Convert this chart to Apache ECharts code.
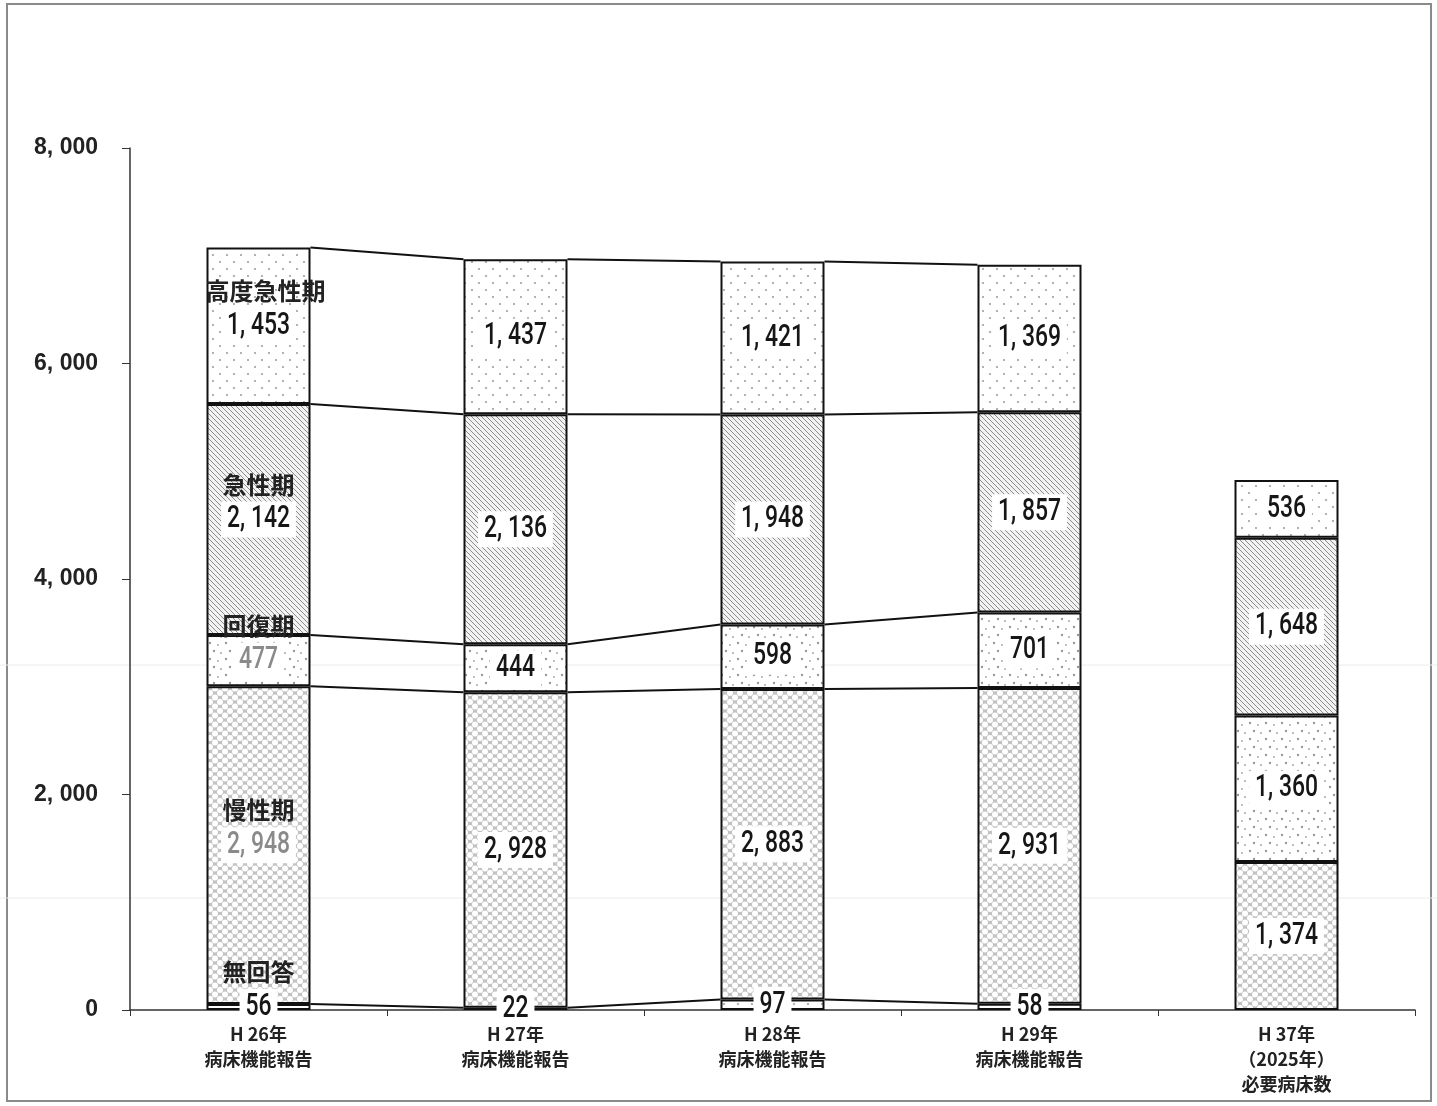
<!DOCTYPE html>
<html>
<head>
<meta charset="utf-8">
<script src="https://cdn.jsdelivr.net/npm/echarts@6/dist/echarts.min.js"></script>
<style>
  html, body { margin: 0; padding: 0; background: #fff; }
  #chart { width: 1437px; height: 1106px; }
</style>
</head>
<body>
<div id="chart"></div>
<script>
// Categories (x axis)
const categories = [
  'H 26年\n病床機能報告',
  'H 27年\n病床機能報告',
  'H 28年\n病床機能報告',
  'H 29年\n病床機能報告',
  'H 37年\n（2025年）\n必要病床数'
];

// Bed counts by function, bottom of the stack first
const mukaito      = [56, 22, 97, 58, null];        // 無回答
const manseiki     = [2948, 2928, 2883, 2931, 1374]; // 慢性期
const kaifukuki    = [477, 444, 598, 701, 1360];     // 回復期
const kyuseiki     = [2142, 2136, 1948, 1857, 1648]; // 急性期
const kodoKyuseiki = [1453, 1437, 1421, 1369, 536];  // 高度急性期

const seriesNames = ['無回答', '慢性期', '回復期', '急性期', '高度急性期'];

// Y axis ticks
const yTicks = [0, 2000, 4000, 6000, 8000];

const BAR_W = 104;

function fmt(v) {
  return String(v).replace(/\B(?=(\d{3})+(?!\d))/g, ', ');
}

// ---- fill patterns ----
function tile(w, h, draw) {
  const c = document.createElement('canvas');
  c.width = w; c.height = h;
  const g = c.getContext('2d');
  draw(g, w, h);
  return { image: c, repeat: 'repeat' };
}
function dot(g, x, y, r, col) {
  g.fillStyle = col; g.beginPath(); g.arc(x, y, r, 0, Math.PI * 2); g.fill();
}
const patSparseDots = tile(14, 14, (g, w, h) => {
  g.fillStyle = '#ffffff'; g.fillRect(0, 0, w, h);
  dot(g, 3, 3, 1.1, '#a0a0a0');
  dot(g, 10, 10, 1.1, '#a0a0a0');
});
const patRecoveryDots = tile(16, 16, (g, w, h) => {
  g.fillStyle = '#ffffff'; g.fillRect(0, 0, w, h);
  dot(g, 2, 3, 1.2, '#999');
  dot(g, 10, 5, 1.0, '#aaa');
  dot(g, 6, 11, 1.2, '#999');
  dot(g, 13, 13, 1.0, '#aaa');
});
const patHatch = tile(5, 5, (g, w, h) => {
  g.fillStyle = '#f2f2f2'; g.fillRect(0, 0, w, h);
  g.strokeStyle = '#8c8c8c'; g.lineWidth = 1.0;
  g.beginPath();
  g.moveTo(-1, -1); g.lineTo(w + 1, h + 1);
  g.moveTo(-1, h - 1); g.lineTo(1, h + 1);
  g.moveTo(w - 1, -1); g.lineTo(w + 1, 1);
  g.stroke();
});
const patHoneycomb = tile(10, 9, (g, w, h) => {
  g.fillStyle = '#c2c2c2'; g.fillRect(0, 0, w, h);
  [[0, 0], [10, 0], [0, 9], [10, 9], [5, 4.5]].forEach(p => dot(g, p[0], p[1], 3.0, '#ffffff'));
});

const fills = [patSparseDots, patHoneycomb, patRecoveryDots, patHatch, patSparseDots];
const stackData = [mukaito, manseiki, kaifukuki, kyuseiki, kodoKyuseiki];

// Cumulative tops per category, used for the connector lines and labels
const tops = categories.map((_, i) => {
  let s = 0;
  return stackData.map(arr => { s += (arr[i] == null ? 0 : arr[i]); return s; });
});

// faded print on the first bar's lower labels
const fadedFirst = { '回復期': true, '慢性期': true };

const valueFont = "Roboto, 'Liberation Sans', Arial, sans-serif";
const cjkFont = "'Noto Sans CJK JP', sans-serif";

const barSeries = seriesNames.map((name, si) => ({
  name: name,
  type: 'bar',
  stack: 'beds',
  barWidth: BAR_W,
  z: 3,
  itemStyle: { color: fills[si], borderColor: '#111', borderWidth: 2 },
  data: stackData[si]
}));

// Lines joining each stack level between neighbouring report years
const connectorSeries = {
  type: 'custom',
  silent: true,
  z: 2,
  data: [[0, 0], [1, 0], [2, 0]],
  encode: { x: 0, y: 1 },
  renderItem: (params, api) => {
    const i = api.value(0);
    const hw = BAR_W / 2;
    const children = tops[i].map((t, k) => {
      const a = api.coord([i, t]);
      const b = api.coord([i + 1, tops[i + 1][k]]);
      return {
        type: 'line',
        shape: { x1: a[0] + hw, y1: a[1], x2: b[0] - hw, y2: b[1] },
        style: { stroke: '#111', lineWidth: 2 }
      };
    });
    return { type: 'group', children: children };
  }
};

// Segment value labels (narrow print), with the band names on the first bar
const labelItems = [];
stackData.forEach((arr, si) => {
  arr.forEach((v, i) => {
    if (v == null) return;
    const bottom = si === 0 ? 0 : tops[i][si - 1];
    labelItems.push([i, bottom + v / 2, v, si]);
  });
});
const labelSeries = {
  type: 'custom',
  silent: true,
  z: 10,
  data: labelItems,
  encode: { x: 0, y: 1 },
  renderItem: (params, api) => {
    const i = api.value(0);
    const mid = api.value(1);
    const v = api.value(2);
    const si = api.value(3);
    const name = seriesNames[si];
    const c = api.coord([i, mid]);
    const faded = i === 0 && fadedFirst[name];
    const children = [{
      type: 'text',
      x: c[0], y: c[1],
      scaleX: 0.74,
      style: {
        x: 0, y: 0,
        text: fmt(v),
        font: '500 31px ' + valueFont,
        fill: faded ? '#8a8a8a' : '#161616',
        align: 'center', verticalAlign: 'middle',
        backgroundColor: '#ffffff',
        padding: [3, 8, 2, 8]
      }
    }];
    if (i === 0) {
      children.push({
        type: 'text',
        x: c[0] + (si === 4 ? 7 : 0), y: c[1] - 35,
        style: {
          x: 0, y: 0,
          text: name,
          font: 'bold 24px ' + cjkFont,
          fill: '#222',
          align: 'center', verticalAlign: 'middle'
        }
      });
    }
    return { type: 'group', children: children };
  }
};

const chart = echarts.init(document.getElementById('chart'), null, { renderer: 'canvas' });
chart.setOption({
  backgroundColor: '#ffffff',
  animation: false,
  grid: { left: 130, right: 22, top: 148, bottom: 96, containLabel: false },
  xAxis: {
    type: 'category',
    data: categories,
    axisLine: { lineStyle: { color: '#333', width: 1.5 } },
    axisTick: { show: true, alignWithLabel: false, length: 6, lineStyle: { color: '#333' } },
    axisLabel: {
      interval: 0, margin: 12,
      fontFamily: cjkFont, fontWeight: 'bold', fontSize: 18, lineHeight: 25, color: '#222'
    }
  },
  yAxis: {
    type: 'value',
    min: yTicks[0],
    max: yTicks[yTicks.length - 1],
    interval: yTicks[1] - yTicks[0],
    splitLine: { show: false },
    axisLine: { show: true, lineStyle: { color: '#333', width: 1.5 } },
    axisTick: { show: true, length: 8, lineStyle: { color: '#333' } },
    axisLabel: {
      margin: 32,
      formatter: v => fmt(v),
      fontFamily: "'Liberation Sans', Arial, sans-serif",
      fontWeight: 'bold', fontSize: 23, color: '#222'
    }
  },
  graphic: [
    { type: 'rect', z: 0, shape: { x: 7, y: 4, width: 1424, height: 1097 },
      style: { fill: 'none', stroke: '#8a8a8a', lineWidth: 2 } },
    { type: 'line', z: 0, shape: { x1: 0, y1: 665, x2: 1437, y2: 665 },
      style: { stroke: '#ececec', lineWidth: 1 } },
    { type: 'line', z: 0, shape: { x1: 0, y1: 898, x2: 1437, y2: 898 },
      style: { stroke: '#ececec', lineWidth: 1 } }
  ],
  series: barSeries.concat([connectorSeries, labelSeries])
});
</script>
</body>
</html>
